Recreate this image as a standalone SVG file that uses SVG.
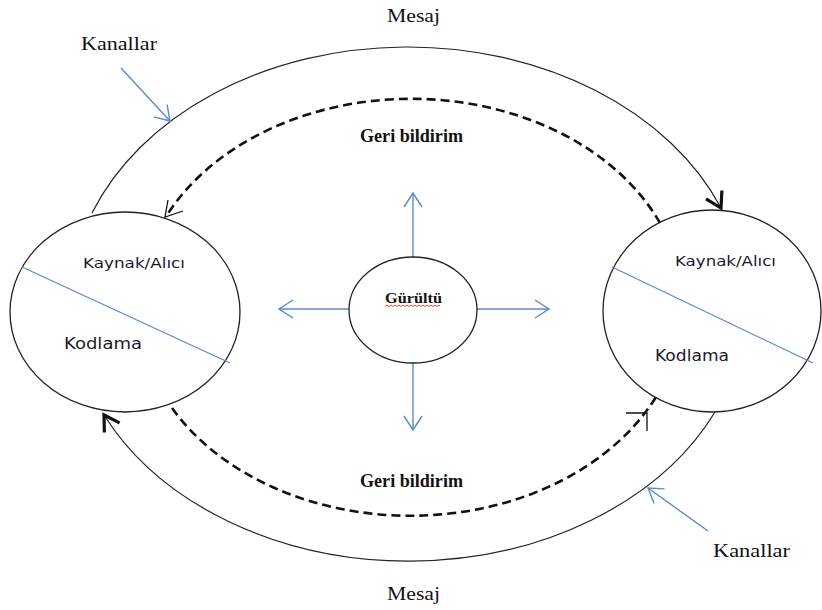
<svg xmlns="http://www.w3.org/2000/svg" width="822" height="610" viewBox="0 0 822 610">
<style>
.node{fill:#fff;stroke:#222;stroke-width:1.3}
.div{stroke:#5b8bc9;stroke-width:1.3}
.serif{font-family:"Liberation Serif","Times New Roman",serif;fill:#111}
.sans{font-family:"DejaVu Sans","Verdana",sans-serif;fill:#1a1a2a}
.solid{fill:none;stroke:#222;stroke-width:1.2}
.dash{fill:none;stroke:#111;stroke-width:2.6;stroke-dasharray:9 5}
.blue{fill:none;stroke:#5b8bc9;stroke-width:1.4}
.ah{fill:none;stroke:#111;stroke-width:1.3}
</style>
<defs>
<marker id="bold" markerUnits="userSpaceOnUse" markerWidth="30" markerHeight="30" refX="0" refY="0" viewBox="-20 -15 25 30" orient="auto">
<path d="M-15,-9 L0,0 L-15,9" fill="none" stroke="#111" stroke-width="3.2"/>
</marker>
<marker id="open" markerUnits="userSpaceOnUse" markerWidth="30" markerHeight="30" refX="0" refY="0" viewBox="-20 -15 25 30" orient="auto">
<path d="M-14,-9 L0,0 L-14,9" fill="none" stroke="#5b8bc9" stroke-width="1.4"/>
</marker>
</defs>

<g id="connectors">
<path class="solid" d="M92,213 A338,258 0 0,1 721,208" marker-end="url(#bold)"/>
<path class="solid" d="M715,412 A338,258 0 0,1 104,415" marker-end="url(#bold)"/>
<path class="dash" d="M660,223 A272,208 0 0,0 167,215"/>
<polyline class="ah" points="183,211 165,217 168,200"/>
<path class="dash" d="M172,408 A272,208 0 0,0 656,397"/>
<polyline class="ah" points="626,413 647,413 647,431"/>
<line class="blue" x1="413" y1="257" x2="413" y2="193" marker-end="url(#open)"/>
<line class="blue" x1="413" y1="363" x2="413" y2="430" marker-end="url(#open)"/>
<line class="blue" x1="349" y1="309" x2="279" y2="309" marker-end="url(#open)"/>
<line class="blue" x1="477" y1="309" x2="549" y2="309" marker-end="url(#open)"/>
<line class="blue" x1="121" y1="68" x2="170" y2="121" marker-end="url(#open)"/>
<line class="blue" x1="708" y1="531" x2="648" y2="488" marker-end="url(#open)"/>
</g>

<g id="left-node">
<ellipse class="node" cx="125" cy="312" rx="115" ry="100"/>
<line class="div" x1="22" y1="267" x2="230" y2="363"/>
<text class="sans" x="83" y="268" font-size="14" textLength="102" lengthAdjust="spacingAndGlyphs">Kaynak/Alıcı</text>
<text class="sans" x="64" y="349" font-size="16" textLength="78" lengthAdjust="spacingAndGlyphs">Kodlama</text>
</g>

<g id="right-node">
<ellipse class="node" cx="712" cy="311" rx="109" ry="101"/>
<line class="div" x1="612" y1="267" x2="813" y2="363"/>
<text class="sans" x="675" y="266" font-size="14" textLength="101" lengthAdjust="spacingAndGlyphs">Kaynak/Alıcı</text>
<text class="sans" x="655" y="361" font-size="15" textLength="74" lengthAdjust="spacingAndGlyphs">Kodlama</text>
</g>

<g id="noise-node">
<ellipse class="node" cx="413" cy="310" rx="64" ry="53"/>
<text class="serif" x="385" y="303" font-size="15" font-weight="bold" textLength="57" lengthAdjust="spacingAndGlyphs">Gürültü</text>
<path d="M385,306.5 l2,-1.5 l2,1.5 l2,-1.5 l2,1.5 l2,-1.5 l2,1.5 l2,-1.5 l2,1.5 l2,-1.5 l2,1.5 l2,-1.5 l2,1.5 l2,-1.5 l2,1.5 l2,-1.5 l2,1.5 l2,-1.5 l2,1.5 l2,-1.5 l2,1.5 l2,-1.5 l2,1.5 l2,-1.5 l2,1.5 l2,-1.5 l2,1.5 l2,-1.5 l1,1" fill="none" stroke="#e0302a" stroke-width="0.9"/>
</g>

<g id="labels">
<text class="serif" x="387" y="22" font-size="19" textLength="53" lengthAdjust="spacingAndGlyphs">Mesaj</text>
<text class="serif" x="81" y="50" font-size="19" textLength="76" lengthAdjust="spacingAndGlyphs">Kanallar</text>
<text class="serif" x="360" y="142" font-size="18" font-weight="bold" textLength="103" lengthAdjust="spacingAndGlyphs">Geri bildirim</text>
<text class="serif" x="360" y="487" font-size="18" font-weight="bold" textLength="103" lengthAdjust="spacingAndGlyphs">Geri bildirim</text>
<text class="serif" x="387" y="600" font-size="19" textLength="53" lengthAdjust="spacingAndGlyphs">Mesaj</text>
<text class="serif" x="713" y="557" font-size="19" textLength="77" lengthAdjust="spacingAndGlyphs">Kanallar</text>
</g>
</svg>
